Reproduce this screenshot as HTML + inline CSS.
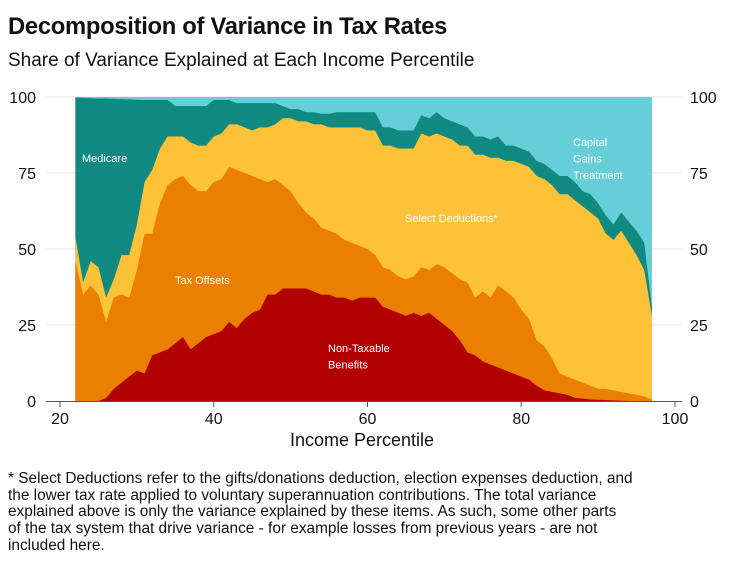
<!DOCTYPE html>
<html><head><meta charset="utf-8"><style>
body{margin:0;background:#fff;font-family:"Liberation Sans",sans-serif;}
#wrap{position:relative;width:754px;height:582px;overflow:hidden;}
.t{position:absolute;white-space:nowrap;color:#111;}
</style></head><body>
<div id="wrap">
<div class="t" style="left:8px;top:13px;font-size:23.8px;font-weight:bold;letter-spacing:-0.3px;">Decomposition of Variance in Tax Rates</div>
<div class="t" style="left:8px;top:50px;font-size:19px;">Share of Variance Explained at Each Income Percentile</div>
<svg id="chart" width="754" height="460" style="position:absolute;left:0;top:0"></svg>
<div class="t" style="left:8px;top:471px;font-size:15.4px;line-height:16.7px;">* Select Deductions refer to the gifts/donations deduction, election expenses deduction, and<br>the lower tax rate applied to voluntary superannuation contributions. The total variance<br>explained above is only the variance explained by these items. As such, some other parts<br>of the tax system that drive variance - for example losses from previous years - are not<br>included here.</div>
</div>
<script>
const percentiles=[];for(let p=22;p<=97;p++)percentiles.push(p);
const nonTaxableTop=[0,0,0,0,1,4,6,8,10,9,15,16,17,19,21,17,19,21,22,23,26,24,27,29,30,35,35,37,37,37,37,36,35,35,34,34,33,34,34,34,31,30,29,28,29,28,29,27,25,23,20,16,15,13,12,11,10,9,8,7,5,3.5,3,2.5,2,1,0.8,0.5,0.4,0.3,0.2,0.1,0,0,0,0];
const taxOffsetsTop=[46,35,38,35,26,34,35,34,43,55,55,65,71,73,74,71,69,69,72,73,77,76,75,74,73,72,73,71,69,65,62,60,57,56,55,53,52,51,50,48,44,43,41,40,41,44,43,45,44,42,40,39,34,36,34,38,36,34,30,27,20,18,14,9,8,7,6,5,4,4,3.5,3,2.5,2,1.5,0.5];
const selectDeductionsTop=[54,39,46,44,34,40,48,48,58,72,76,83,87,87,87,85,84,84,87,88,91,91,90,89,90,90,91,93,93,92,92,91,91,90,90,90,90,90,89,89,84,84,83,83,83,88,87,88,87,86,84,84,81,81,80,80,79,79,78,77,74,73,71,68,68,66,64,62,60,55,53,56,52,48,43,28];
const medicareTop=[99.8,99.7,99.6,99.5,99.5,99.4,99.3,99.2,99.1,99,99,99,99,97,97,97,97,97,99,99,99,98,98,98,98,98,98,97,96,96,95,95,94.5,94.5,95,95,95,95,95,95,90,90,89,89,89,94,93,95,93,92,91,90,87,87,86,87,84,84,83,82,79,78,76,74,74,72,69,68,65,61,58,62,59,56,52,31];
const capitalGainsTop=percentiles.map(()=>100);
const yTicks=[0,25,50,75,100];
const xTicks=[20,40,60,80,100];
const seriesNames=['non-taxable-benefits','tax-offsets','select-deductions','medicare','capital-gains-treatment'];

const svg=document.getElementById('chart');const NS='http://www.w3.org/2000/svg';
const X0=46,X1=682;
function xs(p){return 60+(p-20)*(615/80);}
function ys(v){return 401-v*3.04;}
function mk(t,a){const e=document.createElementNS(NS,t);for(const k in a)e.setAttribute(k,a[k]);svg.appendChild(e);return e;}
yTicks.forEach(v=>{
 if(v>0){const g=mk('line',{x1:X0,x2:X1,y1:ys(v),y2:ys(v),stroke:'#e4e4e4','stroke-width':1});
 
 }
 const l=mk('text',{x:36,y:ys(v)+6,'text-anchor':'end','font-size':16,fill:'#111','font-family':'Liberation Sans'});l.textContent=v;
 
 
 const r=mk('text',{x:690,y:ys(v)+6,'font-size':16,fill:'#111','font-family':'Liberation Sans'});r.textContent=v;
 
 
});
const tops=[nonTaxableTop,taxOffsetsTop,selectDeductionsTop,medicareTop,capitalGainsTop];
const colors=['#b30000','#ea7f02','#fdc238','#108a80','#66ced6'];
for(let s=tops.length-1;s>=0;s--){
 let d='M'+xs(percentiles[0])+','+ys(0);
 percentiles.forEach((p,i)=>{d+=' L'+xs(p)+','+ys(tops[s][i]);});
 d+=' L'+xs(percentiles[percentiles.length-1])+','+ys(0)+' Z';
 const a=mk('path',{d:d,fill:colors[s]});
 
 
}
const ax=mk('line',{x1:X0,x2:X1,y1:401.5,y2:401.5,stroke:'#555','stroke-width':1});


xTicks.forEach(v=>{
 const t=mk('line',{x1:xs(v),x2:xs(v),y1:401,y2:407,stroke:'#555'});
 
 
 const l=mk('text',{x:xs(v),y:424,'text-anchor':'middle','font-size':16,fill:'#111','font-family':'Liberation Sans'});l.textContent=v;
 
 
});
const xt=mk('text',{x:362,y:446,'text-anchor':'middle','font-size':18,fill:'#111','font-family':'Liberation Sans'});xt.textContent='Income Percentile';


const labels=[['medicare-label',82,162,['Medicare']],['tax-offsets-label',175,284,['Tax Offsets']],['non-taxable-benefits-label',328,352,['Non-Taxable','Benefits']],['select-deductions-label',405,222,['Select Deductions*']],['capital-gains-label',573,146,['Capital','Gains','Treatment']]];
labels.forEach(L=>{L[3].forEach((s,i)=>{
 const t=mk('text',{x:L[1],y:L[2]+i*16.5,'font-size':11,fill:'#fff','font-family':'Liberation Sans'});t.textContent=s;
 
 
});});
</script>
</body></html>
